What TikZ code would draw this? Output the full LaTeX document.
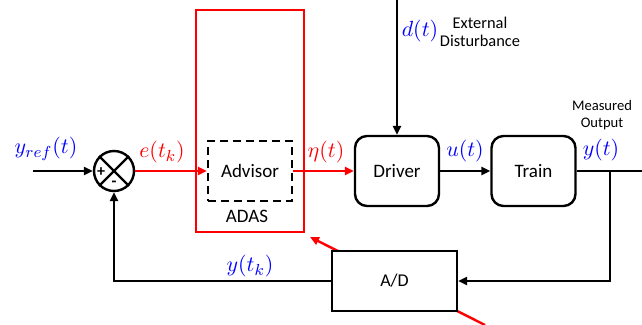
\documentclass[tikz,border=0pt]{standalone}
\usepackage{fontspec}
\setmainfont{Carlito}
\usetikzlibrary{arrows.meta}
\tikzset{
  block/.style={draw, line width=1.2pt, rounded corners=6pt, minimum width=42pt, minimum height=35pt, font=\fontsize{9.5}{11}\selectfont},
  sqblock/.style={draw, line width=1.2pt, fill=white, minimum width=62.5pt, minimum height=30pt, font=\fontsize{9}{11}\selectfont},
  advbox/.style={draw, line width=1.2pt, dash pattern=on 4pt off 2.5pt, minimum width=42pt, minimum height=30pt, font=\fontsize{9.5}{11}\selectfont},
  adasbox/.style={draw=red, line width=1pt, minimum width=54pt, minimum height=111pt},
  sumnode/.style={draw, circle, line width=1.2pt, minimum size=20pt, inner sep=0pt},
  sig/.style={line width=1.2pt, -{Triangle[length=4.5pt,width=4pt]}},
  redsig/.style={sig, draw=red},
  bluelbl/.style={text=blue, font=\fontsize{10.8}{13}\selectfont},
  redlbl/.style={text=red, font=\fontsize{10.8}{13}\selectfont},
  note/.style={font=\fontsize{7.3}{8.5}\selectfont, align=center, inner sep=0pt}
}
\begin{document}
\begin{tikzpicture}[x=0.5pt, y=-0.5pt]
  \useasboundingbox (0,0) rectangle (642,325);

  % Coordinates
  \coordinate (yin) at (33,171);
  \coordinate (din) at (397,0);
  \coordinate (yout) at (642,171);
  \coordinate (branch) at (610,171);
  \coordinate (swlow) at (485,325);
  \coordinate (swhigh) at (310,237);

  % Blocks
  \node[adasbox] (adas) at (250,121) {};
  \node[font=\fontsize{9.5}{11}\selectfont] (adaslbl) at (247,216) {ADAS};
  \node[sumnode] (sum) at (114,171) {};
  \node[advbox] (advisor) at (250,171) {Advisor};
  \node[block] (driver) at (397,171) {Driver};
  \node[block] (train) at (533.5,171) {Train};

  % Sampling switch
  \draw[draw=red, line width=1.2pt, -{Triangle[length=4.5pt,width=4pt]}] (swlow) -- (swhigh);
  \node[sqblock] (ad) at (394.5,281) {A/D};

  % Summing junction
  \draw[line width=1.2pt] (sum.45) -- (sum.225) (sum.135) -- (sum.-45);
  \node[font=\footnotesize\bfseries, inner sep=0pt] (plus) at (101,172) {+};
  \node[font=\footnotesize\bfseries, inner sep=0pt] (minus) at (114,184) {-};

  % Signals
  \draw[sig] (yin) -- (sum);
  \draw[redsig] (sum) -- (advisor);
  \draw[redsig] (advisor) -- (driver);
  \draw[sig] (din) -- (driver);
  \draw[sig] (driver) -- (train);
  \draw[line width=1.2pt] (train) -- (yout);
  \draw[sig] (branch) |- (ad);
  \draw[sig] (ad) -| (sum);

  % Labels
  \node[bluelbl] (yreflbl) at (46,149) {$y_{ref}(t)$};
  \node[redlbl] (elbl) at (162,152) {$e(t_k)$};
  \node[redlbl] (etalbl) at (326,152) {$\eta(t)$};
  \node[bluelbl] (ulbl) at (465,151) {$u(t)$};
  \node[bluelbl] (ylbl) at (601,150) {$y(t)$};
  \node[bluelbl] (dlbl) at (420,31) {$d(t)$};
  \node[bluelbl] (yklbl) at (250,266) {$y(t_k)$};
  \node[note, font=\fontsize{8.2}{9}\selectfont] (extlbl) at (480,32) {External\\Disturbance};
  \node[note] (measlbl) at (602,115) {Measured\\Output};
\end{tikzpicture}
\end{document}
